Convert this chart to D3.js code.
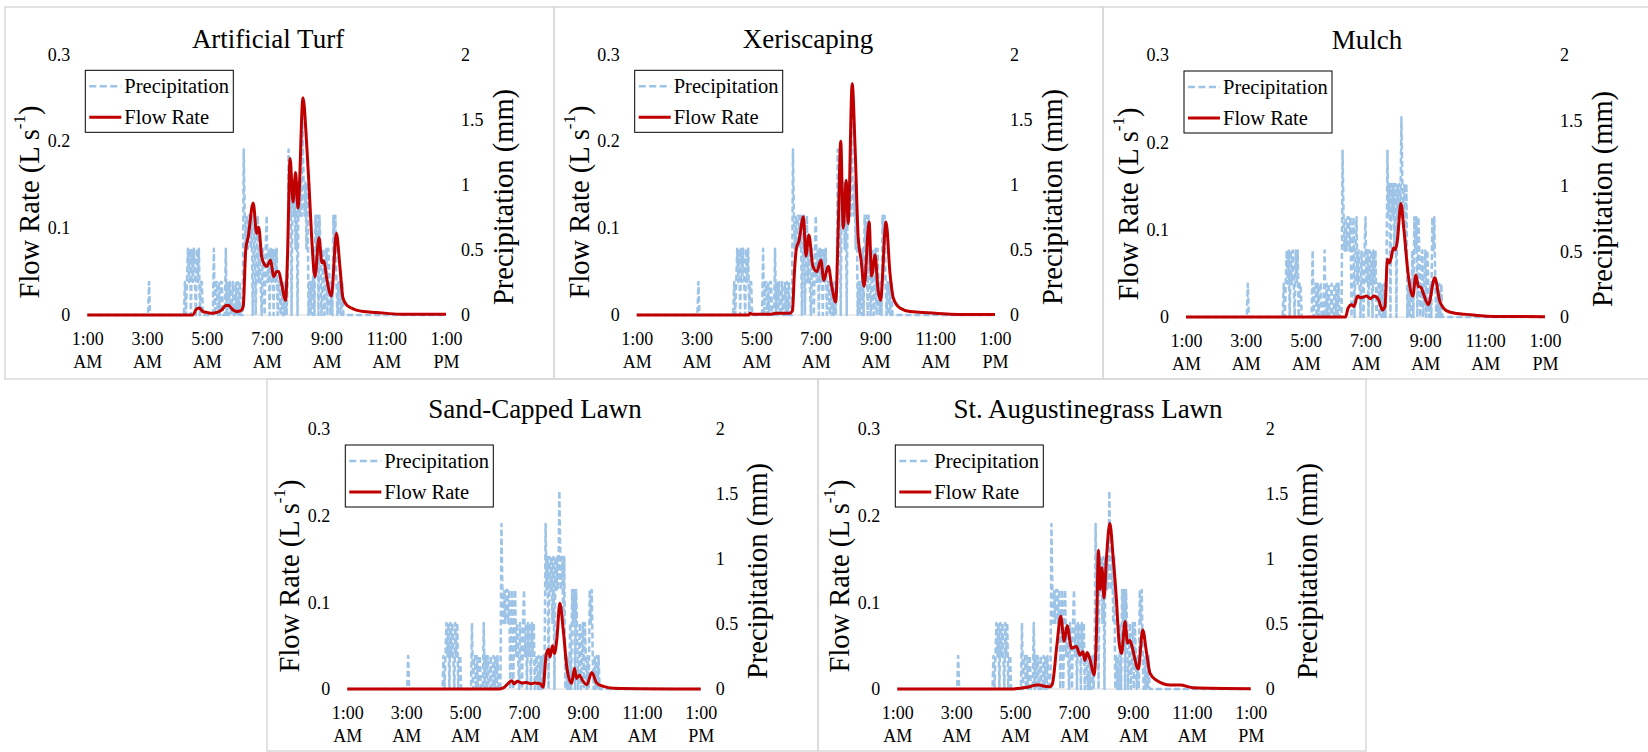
<!DOCTYPE html>
<html>
<head>
<meta charset="utf-8">
<script src="https://d3js.org/d3.v7.min.js"></script>
<style>
  body { margin: 0; background: #fff; }
  svg { display: block; font-family: "Liberation Serif", "Times New Roman", serif; }
</style>
</head>
<body>
<svg width="1648" height="752"></svg>
<script>
// x axis: 1:00 AM .. 1:00 PM every 2 h
var timeTicks = ["1:00", "3:00", "5:00", "7:00", "9:00", "11:00", "1:00"];
var timeHalf = ["AM", "AM", "AM", "AM", "AM", "AM", "PM"];
var flowTicks = [0, 0.1, 0.2, 0.3];
var precipTicks = [0, 0.5, 1, 1.5, 2];

// precipitation as 0.01 in (0.254 mm) gauge tips per 2 minutes, 1:00 AM .. 1:00 PM
var tipMm = 0.254;
var precipTips = [
  0,0,0,0,0,0,0,0,0,0, 0,0,0,0,0,0,0,0,0,0, 0,0,0,0,0,0,0,0,0,0,   // 1:00
  0,0,0,0,0,0,0,0,0,0, 0,0,0,0,0,0,0,0,0,0, 0,0,0,0,0,0,0,0,0,0,   // 2:00
  0,0,1,0,0,0,0,0,0,0, 0,0,0,0,0,0,0,0,0,0, 0,0,0,0,0,0,0,0,0,0,   // 3:00
  0,0,0,0,0,0,0,0,1,0, 1,2,1,2,0,2,1,2,1,0, 2,1,2,0,1,1,0,0,0,0,   // 4:00
  0,0,0,0,0,0,0,2,0,1, 1,0,1,0,1,1,0,0,0,2, 0,1,0,1,0,0,1,0,0,1,   // 5:00
  0,1,0,1,0,0,0,5,3,2, 3,2,3,3,2,3,0,2,3,0, 2,3,1,2,1,0,2,1,0,2,   // 6:00
  3,1,2,0,2,1,2,0,2,1, 2,0,1,1,0,1,0,1,0,1, 0,1,5,3,4,0,4,3,4,2,   // 7:00
  4,0,4,3,4,3,6,4,3,4, 2,4,0,1,0,1,0,2,0,3, 2,3,0,3,2,0,1,2,0,1,   // 8:00
  2,0,2,1,0,1,0,3,2,3, 1,0,1,0,1,0,1,0,0,0, 0,0,0,0,0,0,0,0,0,0,   // 9:00
  0,0,0,0,0,0,0,0,0,0, 0,0,0,0,0,0,0,0,0,0, 0,0,0,0,0,0,0,0,0,0,   // 10:00
  0,0,0,0,0,0,0,0,0,0, 0,0,0,0,0,0,0,0,0,0, 0,0,0,0,0,0,0,0,0,0,   // 11:00
  0,0,0,0,0,0,0,0,0,0, 0,0,0,0,0,0,0,0,0,0, 0,0,0,0,0,0,0,0,0,0,   // 12:00
  0
];

// flow rate (L/s), [time, value]
var turfFlow = [["1:00",0],["4:32",0],["4:38",0.006],["4:45",0.008],["4:52",0.004],["5:00",0.003],
  ["5:10",0.002],["5:20",0.003],["5:30",0.006],["5:38",0.011],["5:44",0.011],["5:52",0.006],["6:00",0.004],
  ["6:08",0.005],["6:13",0.01],["6:18",0.075],["6:23",0.09],["6:33",0.129],["6:40",0.094],["6:44",0.101],
  ["6:50",0.067],["6:54",0.06],["7:00",0.056],["7:08",0.063],["7:14",0.044],["7:20",0.05],["7:24",0.05],
  ["7:30",0.036],["7:38",0.017],["7:42",0.07],["7:47",0.18],["7:53",0.13],["7:58",0.164],["8:03",0.123],
  ["8:13",0.25],["8:20",0.2],["8:25",0.15],["8:30",0.093],["8:37",0.044],["8:45",0.089],["8:51",0.06],
  ["8:55",0.062],["9:00",0.044],["9:10",0.022],["9:20",0.094],["9:27",0.056],["9:33",0.02],["9:40",0.012],
  ["9:50",0.008],["10:14",0.004],["10:40",0.003],["11:27",0.001],["13:00",0.001]];

var xeriFlow = [["1:00",0],["4:45",0],["4:48",0.002],["4:52",0.001],["5:30",0.001],["5:40",0.002],
  ["6:08",0.002],["6:13",0.005],["6:17",0.05],["6:21",0.077],["6:26",0.085],["6:35",0.113],["6:40",0.068],
  ["6:46",0.092],["6:54",0.056],["7:02",0.05],["7:10",0.063],["7:16",0.04],["7:25",0.056],["7:32",0.033],
  ["7:40",0.015],["7:45",0.1],["7:50",0.2],["7:55",0.1],["8:01",0.155],["8:05",0.105],["8:13",0.266],
  ["8:19",0.19],["8:25",0.09],["8:31",0.063],["8:37",0.033],["8:47",0.107],["8:52",0.045],["8:59",0.069],
  ["9:05",0.029],["9:10",0.017],["9:21",0.107],["9:29",0.048],["9:36",0.019],["9:49",0.008],["10:09",0.004],
  ["10:36",0.003],["11:30",0.001],["13:00",0.0005]];

var mulchFlow = [["1:00",0],["6:20",0],["6:25",0.01],["6:32",0.014],["6:37",0.012],["6:44",0.024],
  ["6:50",0.022],["6:56",0.023],["7:02",0.024],["7:10",0.021],["7:17",0.024],["7:26",0.02],["7:34",0.008],
  ["7:39",0.012],["7:44",0.066],["7:48",0.062],["7:52",0.069],["7:56",0.079],["8:00",0.077],["8:04",0.088],
  ["8:11",0.13],["8:17",0.1],["8:26",0.047],["8:35",0.024],["8:41",0.048],["8:46",0.035],["8:51",0.034],
  ["8:56",0.027],["9:06",0.014],["9:19",0.045],["9:29",0.018],["9:43",0.007],["10:03",0.004],["10:23",0.003],
  ["11:03",0.001],["13:00",0.0003]];

var sandFlow = [["1:00",0],["6:10",0],["6:20",0.002],["6:28",0.0065],["6:35",0.0096],["6:40",0.006],
  ["6:46",0.009],["6:55",0.007],["7:05",0.0075],["7:14",0.006],["7:22",0.007],["7:33",0.006],["7:39",0.002],
  ["7:45",0.039],["7:50",0.046],["7:53",0.037],["7:58",0.05],["8:02",0.041],["8:07",0.058],["8:13",0.099],
  ["8:20",0.068],["8:28",0.022],["8:37",0.0065],["8:43",0.024],["8:47",0.012],["8:53",0.016],["8:59",0.01],
  ["9:08",0.005],["9:18",0.019],["9:28",0.007],["9:42",0.003],["10:02",0.001],["13:00",0]];

var augFlow = [["1:00",0],["4:55",0],["5:03",0.0005],["5:17",0.0015],["5:30",0.0027],["5:44",0.0046],
  ["5:51",0.0046],["5:57",0.0035],["6:11",0.0027],["6:16",0.006],["6:25",0.05],["6:33",0.084],["6:40",0.055],
  ["6:46",0.073],["6:55",0.047],["7:05",0.049],["7:12",0.039],["7:18",0.043],["7:22",0.033],["7:27",0.042],
  ["7:33",0.033],["7:41",0.016],["7:45",0.05],["7:50",0.16],["7:53",0.115],["7:57",0.14],["8:01",0.105],
  ["8:06",0.15],["8:13",0.191],["8:20",0.15],["8:26",0.107],["8:32",0.053],["8:37",0.041],["8:44",0.078],
  ["8:49",0.053],["8:54",0.056],["8:59",0.047],["9:11",0.023],["9:20",0.068],["9:28",0.041],["9:35",0.018],
  ["9:48",0.01],["10:16",0.0046],["10:36",0.0046],["11:03",0.0015],["13:00",0.0004]];

// panel layout (pixels)
var panels = [
  {title: "Artificial Turf", flow: turfFlow, box: [5, 7, 549, 372], x0: 87.3, x1: 446, yTop: 54.3, y0: 315, tx: 268, ty: 47.5},
  {title: "Xeriscaping", flow: xeriFlow, box: [554, 7, 549, 372], x0: 636.7, x1: 995, yTop: 54.3, y0: 315, tx: 808, ty: 47.5},
  {title: "Mulch", flow: mulchFlow, box: [1103, 7, 547, 372], x0: 1186, x1: 1545, yTop: 55, y0: 317, tx: 1367, ty: 49},
  {title: "Sand-Capped Lawn", flow: sandFlow, box: [267, 379, 551, 372], x0: 347.3, x1: 700.7, yTop: 429, y0: 689, tx: 535, ty: 418},
  {title: "St. Augustinegrass Lawn", flow: augFlow, box: [818, 379, 548, 372], x0: 897.3, x1: 1250.7, yTop: 429, y0: 689, tx: 1088, ty: 418}
];

var blue = "#9dc3e6", red = "#c00000";

var toMin = function(s) {
    var p = s.split(":");
    return +p[0] * 60 + +p[1];
}

var precipData = precipTips.map(function(t, i) { return {m: 60 + 2 * i, v: t * tipMm}; });

var svg = d3.select("svg");

var drawPanel = function(p) {
    var g = svg.append("g");

    g.append("rect")
        .attr("x", p.box[0]).attr("y", p.box[1])
        .attr("width", p.box[2]).attr("height", p.box[3])
        .attr("fill", "none")
        .attr("stroke", "#d9d9d9")
        .attr("stroke-width", 1.5);

    var x = d3.scaleLinear().domain([60, 780]).range([p.x0, p.x1]);
    var yFlow = d3.scaleLinear().domain([0, 0.3]).range([p.y0, p.yTop]);
    var yPrec = d3.scaleLinear().domain([0, 2]).range([p.y0, p.yTop]);

    // baseline
    g.append("line")
        .attr("x1", p.x0).attr("x2", p.x1)
        .attr("y1", p.y0).attr("y2", p.y0)
        .attr("stroke", "#d9d9d9")
        .attr("stroke-width", 1);

    var precipLine = d3.line()
        .x(function(d) { return x(d.m); })
        .y(function(d) { return yPrec(d.v); });

    g.append("path")
        .attr("d", precipLine(precipData))
        .attr("fill", "none")
        .attr("stroke", blue)
        .attr("stroke-width", 2.5)
        .attr("stroke-dasharray", "6,3")
        .attr("stroke-linejoin", "round");

    var flowLine = d3.line()
        .curve(d3.curveMonotoneX)
        .x(function(d) { return x(toMin(d[0])); })
        .y(function(d) { return yFlow(d[1]); });

    g.append("path")
        .attr("d", flowLine(p.flow))
        .attr("fill", "none")
        .attr("stroke", red)
        .attr("stroke-width", 3)
        .attr("stroke-linejoin", "round");

    // left axis
    var left = g.append("g")
        .attr("transform", "translate(" + p.x0 + ",0)")
        .call(d3.axisLeft(yFlow).tickValues(flowTicks).tickSize(0).tickPadding(17)
            .tickFormat(function(d) { return d === 0 ? "0" : d3.format(".1f")(d); }));
    left.select(".domain").remove();

    var right = g.append("g")
        .attr("transform", "translate(" + p.x1 + ",0)")
        .call(d3.axisRight(yPrec).tickValues(precipTicks).tickSize(0).tickPadding(15)
            .tickFormat(function(d) { return String(d); }));
    right.select(".domain").remove();

    var bottom = g.append("g")
        .attr("transform", "translate(0," + p.y0 + ")")
        .call(d3.axisBottom(x).tickValues(d3.range(60, 781, 120)).tickSize(0).tickFormat(""));
    bottom.select(".domain").remove();
    bottom.selectAll(".tick text").each(function(d, i) {
        var t = d3.select(this).attr("y", 0).attr("dy", null);
        t.append("tspan").attr("x", 0).attr("y", 30).text(timeTicks[i]);
        t.append("tspan").attr("x", 0).attr("y", 53).text(timeHalf[i]);
    });

    g.selectAll(".tick text")
        .attr("fill", "#000")
        .style("font-family", "'Liberation Serif', 'Times New Roman', serif")
        .style("font-size", "18px");

    // titles
    g.append("text")
        .attr("x", p.tx).attr("y", p.ty)
        .attr("text-anchor", "middle")
        .style("font-size", "27px")
        .text(p.title);

    var lt = g.append("text")
        .attr("transform", "translate(" + (p.x0 - 58) + "," + (p.y0 - 113) + ") rotate(-90)")
        .attr("text-anchor", "middle")
        .attr("dominant-baseline", "central")
        .style("font-size", "28.5px");
    lt.append("tspan").text("Flow Rate (L s");
    lt.append("tspan").attr("dy", -10).style("font-size", "17px").text("-1");
    lt.append("tspan").attr("dy", 10).text(")");

    g.append("text")
        .attr("transform", "translate(" + (p.x1 + 57) + "," + (p.y0 - 118) + ") rotate(-90)")
        .attr("text-anchor", "middle")
        .attr("dominant-baseline", "central")
        .style("font-size", "28.5px")
        .text("Precipitation (mm)");

    // legend
    var lx = p.x0 - 2, ly = p.yTop + 16;
    var lg = g.append("g").attr("transform", "translate(" + lx + "," + ly + ")");
    lg.append("rect")
        .attr("width", 148).attr("height", 62)
        .attr("fill", "#fff")
        .attr("stroke", "#000")
        .attr("stroke-width", 1);
    lg.append("line")
        .attr("x1", 4).attr("x2", 36).attr("y1", 16).attr("y2", 16)
        .attr("stroke", blue).attr("stroke-width", 2.5).attr("stroke-dasharray", "7,3.5");
    lg.append("line")
        .attr("x1", 4).attr("x2", 36).attr("y1", 47).attr("y2", 47)
        .attr("stroke", red).attr("stroke-width", 3);
    lg.append("text").attr("x", 39).attr("y", 16).attr("dy", "0.35em")
        .style("font-size", "20.5px").text("Precipitation");
    lg.append("text").attr("x", 39).attr("y", 47).attr("dy", "0.35em")
        .style("font-size", "20.5px").text("Flow Rate");
}

for (var i = 0; i < panels.length; i++) {
    drawPanel(panels[i]);
}
</script>
</body>
</html>
